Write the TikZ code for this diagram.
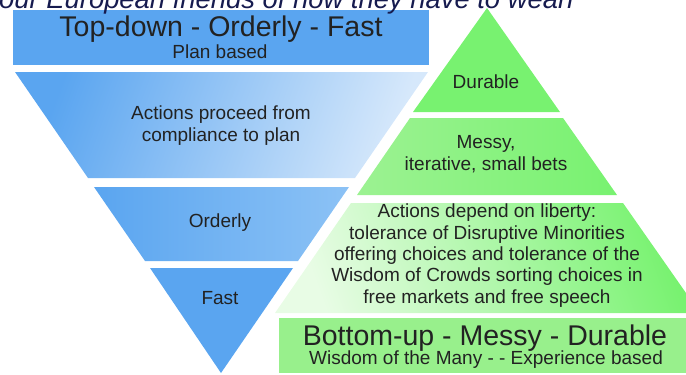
\documentclass[tikz,border=0pt]{standalone}
\usepackage{fontspec}
\setmainfont{Liberation Sans}
\definecolor{blueA}{HTML}{5AA5F0}
\definecolor{blueL}{HTML}{D6E8FB}
\definecolor{blueM}{HTML}{8CC2F5}
\definecolor{greenA}{HTML}{78F270}
\definecolor{greenM}{HTML}{9CF292}
\definecolor{greenL}{HTML}{E8FCE5}
\definecolor{greenR}{HTML}{98F08C}
\definecolor{ink}{HTML}{222222}
\definecolor{navy}{HTML}{161B4F}
\begin{document}
\begin{tikzpicture}[x=1pt,y=-1pt,
  small/.style={font=\fontsize{19}{21.3}\selectfont, text=ink, inner sep=0pt, anchor=base, align=center},
  big/.style={font=\fontsize{28.5}{30}\selectfont, text=ink, inner sep=0pt, anchor=base}]
\useasboundingbox (0,0) rectangle (686,375);
\begin{scope}
\clip (0,0) rectangle (686,375);
% blue inverted pyramid
\fill[blueA] (13,10) rectangle (429,65);
\shade[left color=blueA, right color=blueL, shading angle=70] (15,72) -- (428,72) -- (355,178) -- (88,178) -- cycle;
\shade[left color=blueA, right color=blueM] (94,187) -- (349,187) -- (298,261) -- (145,261) -- cycle;
\fill[blueA] (150,268) -- (293,268) -- (221,373) -- cycle;
% green pyramid
\fill[greenA] (487,8) -- (560,112) -- (413,112) -- cycle;
\shade[left color=greenM, right color=greenA] (410,118) -- (563,118) -- (617,195) -- (357,195) -- cycle;
\shade[left color=greenL, right color=greenA, shading angle=110] (351,203) -- (623,203) -- (700,313) -- (275,313) -- cycle;
\fill[greenR] (279,318) rectangle (690,373);
\end{scope}
% texts
\node[anchor=base west, inner sep=0pt, text=navy, font=\fontsize{27.4}{30}\selectfont\itshape] (title) at (-1,8) {our European friends of how they have to wean};
\node[big] (td) at (221,36) {Top-down - Orderly - Fast};
\node[small] (pb) at (220,58) {Plan based};
\node[small] (ap) at (221,141) {Actions proceed from\\compliance to plan};
\node[small] (ord) at (220,227) {Orderly};
\node[small] (fast) at (220,304) {Fast};
\node[small] (dur) at (486,88) {Durable};
\node[small] (messy) at (486,170) {Messy,\\iterative, small bets};
\node[small] (lib) at (487,303) {Actions depend on liberty:\\tolerance of Disruptive Minorities\\offering choices and tolerance of the\\Wisdom of Crowds sorting choices in\\free markets and free speech};
\node[big] (bu) at (485,345) {Bottom-up - Messy - Durable};
\node[small] (wm) at (486,364) {Wisdom of the Many - - Experience based};
\end{tikzpicture}
\end{document}
